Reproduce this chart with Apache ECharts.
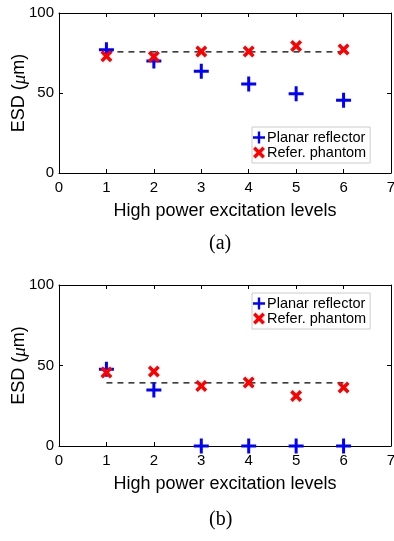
<!DOCTYPE html>
<html>
<head>
<meta charset="utf-8">
<script src="https://cdn.jsdelivr.net/npm/echarts@6/dist/echarts.min.js"></script>
<style>
  html, body { margin: 0; padding: 0; background: #fff; }
  #chart { width: 394px; height: 541px; }
</style>
</head>
<body>
<div id="chart"></div>
<script>
const levels = [1, 2, 3, 4, 5, 6];
const planarA = [77, 70, 63.6, 55.7, 49.5, 45.5];
const phantomA = [73, 72.6, 76, 76, 79.3, 77.2];
const meanA = 75.7;
const planarB = [47.6, 34.8, 0, 0, 0, 0];
const phantomB = [45.6, 46.2, 37.3, 39.4, 31.1, 36.3];
const meanB = 39.2;
const yTicks = [0, 50, 100];

const chart = echarts.init(document.getElementById("chart"));

const PLUS = "path://M6,0H9V6H15V9H9V15H6V9H0V6H6Z";
const CROSS = "path://M0,2.5L2.5,0L6,3.5L9.5,0L12,2.5L8.5,6L12,9.5L9.5,12L6,8.5L2.5,12L0,9.5L3.5,6Z";
const FONT = "Liberation Sans";

const pairs = (ys) => levels.map((x, i) => [x, ys[i]]);

function xAxes(gridIndex) {
  const base = {
    gridIndex, type: "value", min: 0, max: 7, interval: 1,
    splitLine: { show: false },
    axisLine: { show: true, onZero: false, lineStyle: { color: "#000", width: 1 } },
    axisTick: { show: true, inside: true, length: 4, lineStyle: { color: "#000" } },
  };
  return [
    { ...base, position: "bottom",
      axisLabel: { color: "#000", fontFamily: FONT, fontSize: 15, margin: 7 },
      name: "High power excitation levels", nameLocation: "middle", nameGap: 29,
      nameMoveOverlap: false,
      nameTextStyle: { color: "#000", fontFamily: FONT, fontSize: 18 } },
    { ...base, position: "top", axisLabel: { show: false } },
  ];
}

function yAxes(gridIndex) {
  const base = {
    gridIndex, type: "value", min: 0, max: 100, interval: 50,
    splitLine: { show: false },
    axisLine: { show: true, onZero: false, lineStyle: { color: "#000", width: 1 } },
    axisTick: { show: true, inside: true, length: 4, lineStyle: { color: "#000" } },
  };
  return [
    { ...base, position: "left",
      axisLabel: { color: "#000", fontFamily: FONT, fontSize: 15, margin: 5,
        formatter: v => (yTicks.includes(v) ? String(v) : "") },
      name: "{n|ESD (}{i|μ}{n|m)}", nameLocation: "middle", nameGap: 30,
      nameMoveOverlap: false,
      nameTextStyle: {
        color: "#000",
        rich: {
          n: { fontFamily: FONT, fontSize: 18, color: "#000" },
          i: { fontFamily: "Liberation Serif", fontStyle: "italic", fontSize: 19, color: "#000" },
        },
      } },
    { ...base, position: "right", axisLabel: { show: false } },
  ];
}

function legend(top) {
  return {
    orient: "vertical", left: 252, top,
    padding: [3, 4, 3, 1], itemGap: 0, itemWidth: 12, itemHeight: 12,
    backgroundColor: "#fff", borderColor: "#cccccc", borderWidth: 1, borderRadius: 0,
    textStyle: { fontFamily: FONT, fontSize: 14.5, color: "#000", lineHeight: 15, padding: [0, 0, 0, -3] },
    data: [
      { name: "Planar reflector", icon: PLUS, itemStyle: { color: "#0000ff" } },
      { name: "Refer. phantom", icon: CROSS, itemStyle: { color: "#ff0000" } },
    ],
    selectedMode: false,
  };
}

function seriesFor(idx, planar, phantom, mean) {
  return [
    { name: "Mean", type: "line", xAxisIndex: idx * 2, yAxisIndex: idx * 2,
      data: [[levels[0], mean], [levels[levels.length - 1], mean]],
      symbol: "none", z: 1,
      lineStyle: { color: "#000", width: 1.2, type: [6, 5] } },
    { name: "Planar reflector", type: "scatter", xAxisIndex: idx * 2, yAxisIndex: idx * 2,
      data: pairs(planar), symbol: PLUS, symbolSize: 15, clip: false, z: 3,
      itemStyle: { color: "#0000ff", opacity: 1 } },
    { name: "Refer. phantom", type: "scatter", xAxisIndex: idx * 2, yAxisIndex: idx * 2,
      data: pairs(phantom), symbol: CROSS, symbolSize: 12, clip: false, z: 4,
      itemStyle: { color: "#ff0000", opacity: 1 } },
  ];
}

chart.setOption({
  animation: false,
  backgroundColor: "#fff",
  grid: [
    { left: 59, top: 13, width: 332, height: 160, outerBoundsMode: "none", containLabel: false },
    { left: 59, top: 285, width: 332, height: 161, outerBoundsMode: "none", containLabel: false },
  ],
  xAxis: [...xAxes(0), ...xAxes(1)],
  yAxis: [...yAxes(0), ...yAxes(1)],
  legend: [legend(127), legend(293)],
  series: [...seriesFor(0, planarA, phantomA, meanA), ...seriesFor(1, planarB, phantomB, meanB)],
  graphic: [
    { type: "text", left: 209, top: 234,
      style: { text: "(a)", font: "20px 'Liberation Serif'", fill: "#000" } },
    { type: "text", left: 209, top: 510,
      style: { text: "(b)", font: "20px 'Liberation Serif'", fill: "#000" } },
  ],
});
</script>
</body>
</html>
